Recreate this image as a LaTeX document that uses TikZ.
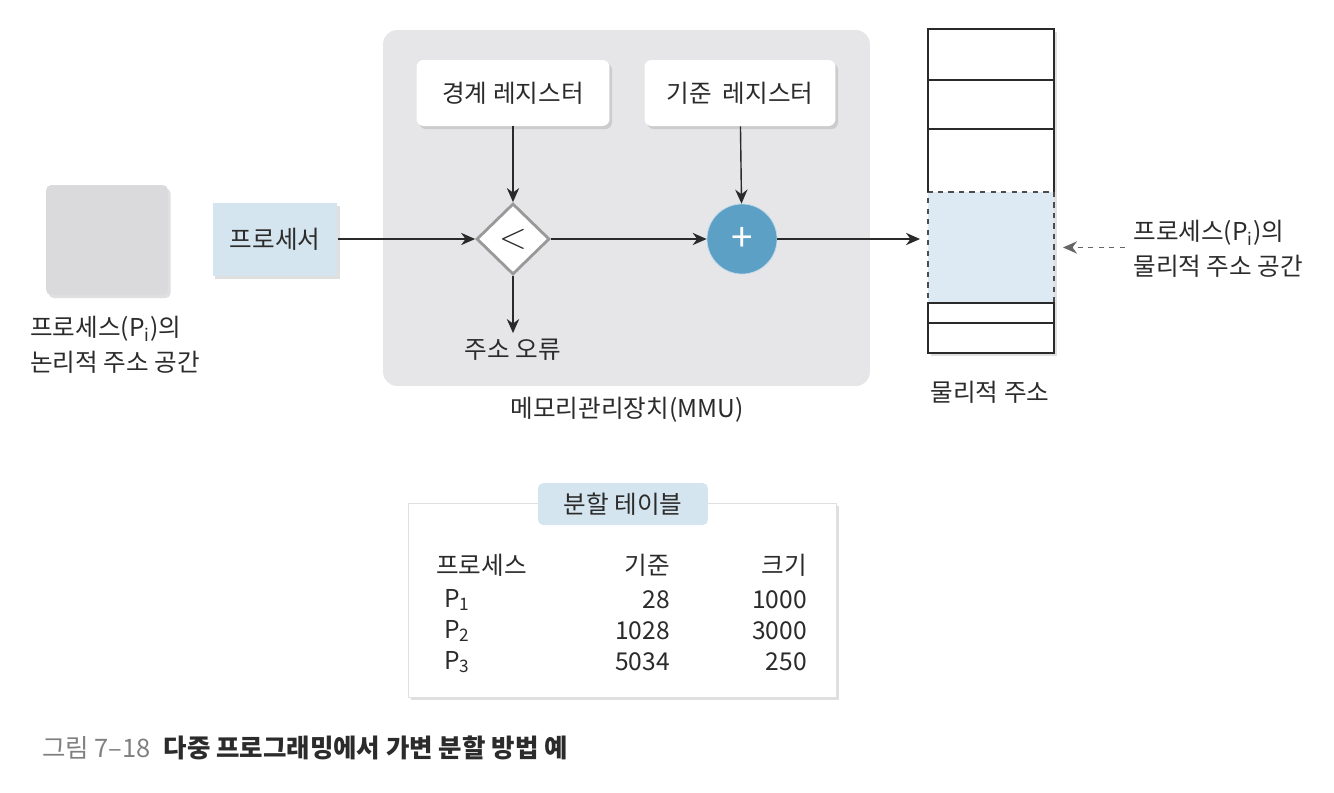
\documentclass[tikz,border=0pt]{standalone}
\usepackage{fontspec}
\setmainfont{Noto Sans CJK KR}
\usetikzlibrary{positioning, arrows.meta, shapes.geometric, shadows}
\definecolor{panelgray}{HTML}{E6E6E8}
\definecolor{boxgray}{HTML}{DADADC}
\definecolor{paleblue}{HTML}{D5E5EF}
\definecolor{memblue}{HTML}{DDE9F3}
\definecolor{adderblue}{HTML}{5DA0C6}
\definecolor{textgray}{HTML}{2B2B2B}
\definecolor{linegray}{HTML}{2A2A2A}
\tikzset{
    >={Stealth[length=8pt, width=7pt]},
    softshadow/.style={drop shadow={opacity=0.25, shadow xshift=1.5pt, shadow yshift=-1.8pt}},
    regbox/.style={fill=white, rounded corners=4pt, minimum height=1.32cm, softshadow},
    memcell/.style={draw=linegray, line width=1.1pt, minimum width=2.52cm, inner sep=0pt, outer sep=0pt},
    flow/.style={->, draw=linegray, line width=0.8pt},
    cell/.style={inner sep=0pt}
}

\begin{document}
\begin{tikzpicture}[x=0.02cm, y=-0.02cm, font=\fontsize{14}{20}\selectfont, text=textgray]
    \useasboundingbox (0,0) rectangle (1334,792);
    % logical side
    \node[fill=boxgray, rounded corners=3pt, minimum width=2.44cm, minimum height=2.2cm, softshadow] (logical) at (107,240) {};
    \node[anchor=north west, align=left, inner sep=0pt] (loglabel) at (30,316) {프로세스(P\textsubscript{i})의\\논리적 주소 공간};
    \node[fill=paleblue, minimum width=2.5cm, minimum height=1.46cm, softshadow] (proc) at (275,239) {프로세서};
    % MMU
    \node[fill=panelgray, rounded corners=8pt, minimum width=9.74cm, minimum height=7.12cm] (mmu) at (626.5,208) {};
    \node (mmulabel) at (627,410) {메모리관리장치(MMU)};
    \node[regbox, minimum width=3.86cm] (bound) at (513,93) {경계 레지스터};
    \node[regbox, minimum width=3.82cm] (base) at (740,93) {기준 \ 레지스터};
    \node[diamond, draw=gray!80, line width=1.6pt, fill=white, minimum width=1.46cm, minimum height=1.42cm, inner sep=0pt, font=\fontsize{20}{20}\selectfont] (cmp) at (513,239) {$<$};
    \node[circle, fill=adderblue, draw=white!60!adderblue, minimum size=1.4cm, inner sep=0pt, text=white, font=\fontsize{22}{22}\selectfont] (add) at (742,239) {+};
    \node (err) at (513,350) {주소 오류};
    \draw[flow] (proc) -- (cmp);
    \draw[flow] (bound) -- (cmp);
    \draw[flow] (cmp) -- (err);
    \draw[flow] (cmp) -- (add);
    \draw[flow] (base) -- (add);
    % physical memory
    \node[fill=white, minimum width=2.52cm, minimum height=6.48cm, softshadow] (memcol) at (991,191) {};
    \node[memcell, minimum height=1.02cm] (m1) at (991,54.5) {};
    \node[memcell, minimum height=0.98cm, below=0pt of m1] (m2) {};
    \node[memcell, draw=none, minimum height=1.26cm, below=0pt of m2] (m3) {};
    \node[memcell, dashed, draw=gray!60!black, line width=0.9pt, fill=memblue, minimum height=2.22cm, below=0pt of m3] (m4) {};
    \node[memcell, minimum height=0.4cm, below=0pt of m4] (m5) {};
    \node[memcell, minimum height=0.6cm, below=0pt of m5] (m6) {};
    \draw[linegray, line width=1.1pt] (m3.south west) -- (m3.north west) -- (m3.north east) -- (m3.south east);
    \node (memlabel) at (990,392) {물리적 주소};
    \node[anchor=west, align=left, inner sep=0pt] (physlabel) at (1133,249) {프로세스(P\textsubscript{i})의\\물리적 주소 공간};
    \draw[flow, shorten >=0.16cm] (add.east) -- (add.east -| m4.west);
    \draw[->, dashed, draw=gray!80!black, line width=0.6pt, shorten <=0.16cm, shorten >=0.18cm] (physlabel.west |- m4.east) -- (m4.east);
    % partition table
    \node[fill=white, draw=black!12, minimum width=8.56cm, minimum height=3.88cm, softshadow] (tbl) at (622,600) {};
    \node[fill=paleblue, rounded corners=3pt, minimum width=3.4cm, minimum height=0.84cm] (tbltitle) at (623,504) {분할 테이블};
    \node[cell, anchor=west] (hproc) at (436,565) {프로세스};
    \node[cell, anchor=east] (hbase) at (670,565) {기준};
    \node[cell, anchor=east] (hsize) at (807,565) {크기};
    \foreach \p/\b/\s [count=\r] in {1/28/1000, 2/1028/3000, 3/5034/250} {
        \node[cell, anchor=west] (pn\r) at (444,569+31*\r) {P\textsubscript{\p}};
        \node[cell, anchor=east] (pb\r) at (670,569+31*\r) {\b};
        \node[cell, anchor=east] (ps\r) at (807,569+31*\r) {\s};
    }
    % caption
    \node[anchor=west, font=\fontsize{14.5}{17}\selectfont] (caption) at (36,748) {{\color{gray}그림 7–18}\hspace{0.5em}\textbf{다중 프로그래밍에서 가변 분할 방법 예}};
\end{tikzpicture}
\end{document}
